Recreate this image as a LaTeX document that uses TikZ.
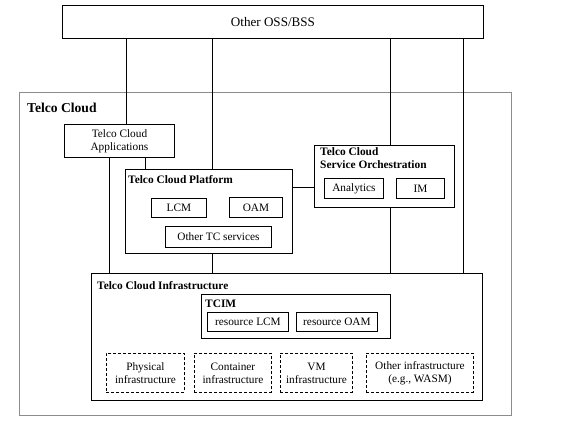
\documentclass[tikz,border=0pt]{standalone}
\usepackage{fontspec}
\setmainfont{Liberation Serif}
\begin{document}
\begin{tikzpicture}[x=1pt,y=-1pt,
  box/.style={draw=black,line width=0.9pt,anchor=north west,inner sep=0pt,align=center,font=\fontsize{11.3}{13.2}\selectfont},
  dbox/.style={box,dash pattern=on 3pt off 2pt},
  ttl/.style={anchor=base west,inner sep=0pt,font=\fontsize{11.4}{13}\selectfont\bfseries,align=left},
  conn/.style={draw=black,line width=1pt}]
\useasboundingbox (0,0) rectangle (576,424);
% outer
\node[draw=black!45,line width=0.9pt,anchor=north west,inner sep=0pt,minimum width=492pt,minimum height=323pt] (tc) at (19,92) {};
\node[ttl,font=\fontsize{13.6}{15}\selectfont\bfseries] (tct) at (27,112) {Telco Cloud};
% OSS
\node[box,minimum width=421pt,minimum height=33pt,font=\fontsize{13.1}{15}\selectfont] (oss) at (62,5) {Other OSS/BSS};
% apps
\node[box,minimum width=110pt,minimum height=33pt] (apps) at (64,124) {Telco Cloud\\Applications};
% platform
\node[box,minimum width=167pt,minimum height=84pt] (plat) at (125,169) {};
\node[ttl] (platt) at (128,183) {Telco Cloud Platform};
\node[box,minimum width=55pt,minimum height=19pt] (lcm) at (151,198) {LCM};
\node[box,minimum width=53pt,minimum height=20pt] (oam) at (229,197) {OAM};
\node[box,minimum width=106pt,minimum height=21pt] (otc) at (165,226) {Other TC services};
% orchestration
\node[box,minimum width=140pt,minimum height=62pt] (orch) at (314,145) {};
\node[ttl,anchor=north west] (orcht) at (320,147.5) {Telco Cloud\\Service Orchestration};
\node[box,minimum width=59pt,minimum height=20pt] (ana) at (324,178) {Analytics};
\node[box,minimum width=48pt,minimum height=20pt] (im) at (396,178) {IM};
% infrastructure
\node[box,minimum width=391pt,minimum height=127pt] (infra) at (91,273) {};
\node[ttl] (infrat) at (97,289) {Telco Cloud Infrastructure};
\node[box,minimum width=189pt,minimum height=44pt] (tcim) at (201,294) {};
\node[ttl] (tcimt) at (205,307) {TCIM};
\node[box,minimum width=81pt,minimum height=19pt] (rlcm) at (207,312) {resource LCM};
\node[box,minimum width=81pt,minimum height=19pt] (roam) at (296,312) {resource OAM};
\node[dbox,minimum width=78pt,minimum height=39pt] (phys) at (106,353) {Physical\\infrastructure};
\node[dbox,minimum width=77pt,minimum height=39pt] (cont) at (194,353) {Container\\infrastructure};
\node[dbox,minimum width=72pt,minimum height=39pt] (vm) at (280,353) {VM\\infrastructure};
\node[dbox,minimum width=107pt,minimum height=39pt] (oth) at (366,353) {Other infrastructure\\(e.g., WASM)};
% connector x positions
\coordinate (xa) at (126,0);
\coordinate (xb) at (212,0);
\coordinate (xc) at (390,0);
\coordinate (xd) at (463,0);
\coordinate (xe) at (109,0);
\coordinate (xf) at (145,0);
\draw[conn] (oss.south -| xa) -- (apps.north -| xa);
\draw[conn] (oss.south -| xb) -- (plat.north -| xb);
\draw[conn] (oss.south -| xc) -- (orch.north -| xc);
\draw[conn] (oss.south -| xd) -- (infra.north -| xd);
\draw[conn] (apps.south -| xe) -- (infra.north -| xe);
\draw[conn] (apps.south -| xf) -- (plat.north -| xf);
\draw[conn] (plat.south -| xb) -- (infra.north -| xb);
\draw[conn] (orch.south -| xc) -- (infra.north -| xc);
\coordinate (yo) at (0,187);
\draw[conn] (plat.east |- yo) -- (orch.west |- yo);
\end{tikzpicture}
\end{document}
